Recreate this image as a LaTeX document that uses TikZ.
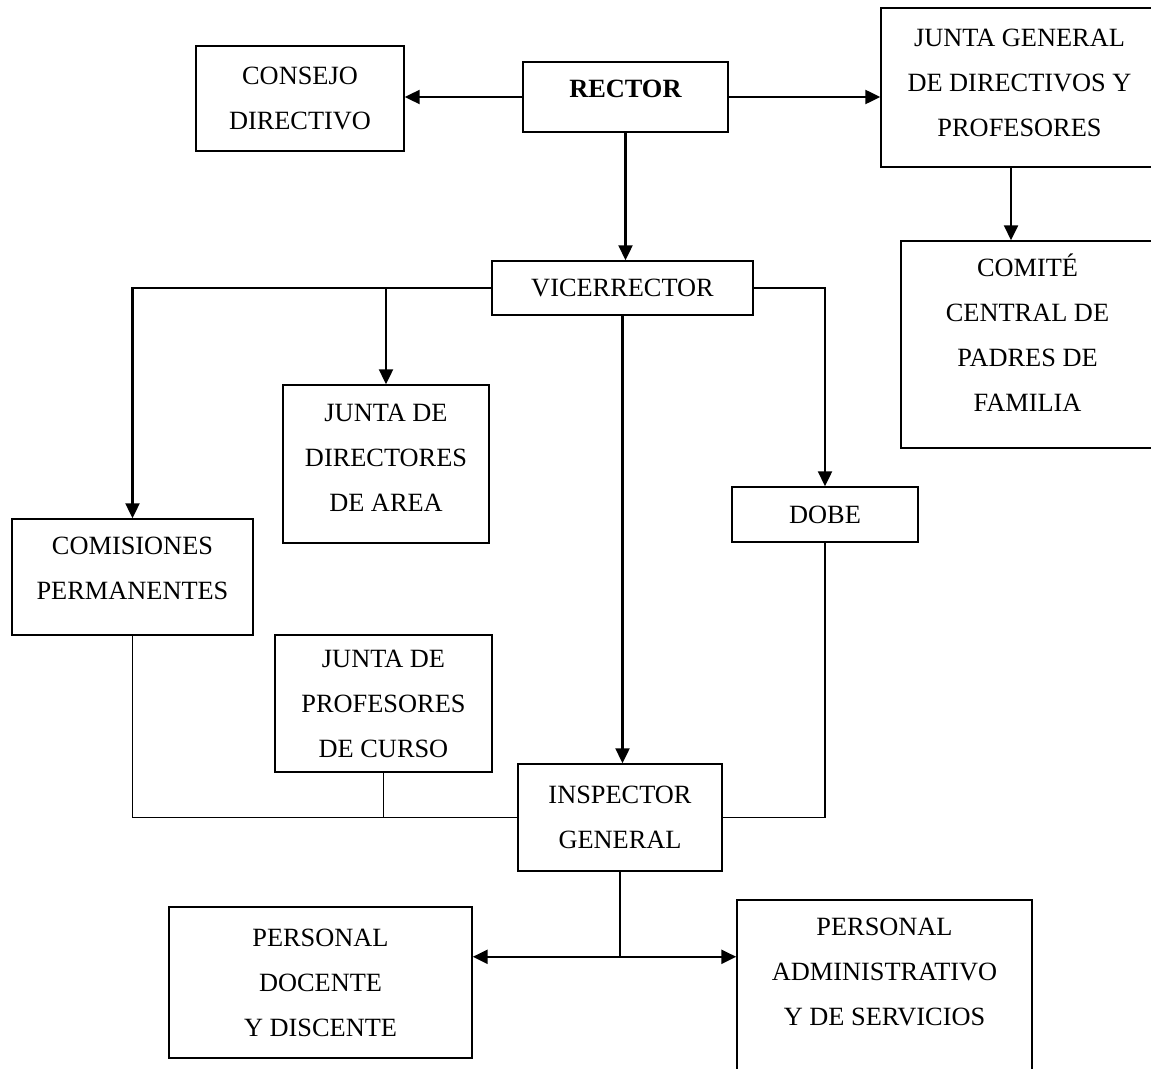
\documentclass[tikz,border=0pt]{standalone}
\usepackage{fontspec}
\setmainfont{Liberation Serif}
\usetikzlibrary{arrows.meta,calc,positioning}

\begin{document}
\begin{tikzpicture}[x=0.02cm,y=-0.02cm,
  txt/.style={align=center, inner sep=0pt, font=\fontsize{15}{25.6}\selectfont},
  box/.style={txt, draw, line width=0.9pt},
  dims/.style 2 args={minimum width=#1cm, minimum height=#2cm},
  lift/.style={execute at end node={\rule[-#1]{0pt}{0pt}}},
  arr/.style={-{Triangle[length=8.5pt,width=8pt]}, line width=1.2pt},
  link/.style={line width=0.9pt}]
\useasboundingbox (0,0) rectangle (1151,1068);

% Draw top level
\node[box, dims={4.1}{1.4}, lift=9pt] (rector) at (625.5,97) {\textbf{RECTOR}};
\node[box, dims={4.16}{2.1}] (consejo) at (300,98.5) {CONSEJO\\DIRECTIVO};
\node[box, dims={5.54}{3.18}, lift=5.7pt] (jgen) at (1019.5,87.5) {JUNTA GENERAL\\DE DIRECTIVOS Y\\PROFESORES};
\node[box, dims={5.06}{4.14}, lift=13.6pt] (comite) at (1027.5,344.5) {COMITÉ\\CENTRAL DE\\PADRES DE\\FAMILIA};

% Draw second level
\node[box, dims={5.22}{1.08}] (vice) at (622.5,288) {VICERRECTOR};
\node[box, dims={4.12}{3.16}, lift=6.8pt] (jdir) at (386,464) {JUNTA DE\\DIRECTORES\\DE AREA};
\node[box, dims={3.72}{1.1}] (dobe) at (825,514.5) {DOBE};
\node[box, dims={4.82}{2.32}, lift=10pt] (comis) at (132.5,577) {COMISIONES\\PERMANENTES};
\node[box, dims={4.34}{2.74}] (jprof) at (383.5,703.5) {JUNTA DE\\PROFESORES\\DE CURSO};

% Draw inspector and staff
\node[box, dims={4.08}{2.14}] (insp) at (620,817.5) {INSPECTOR\\GENERAL};
\node[box, dims={6.06}{3.02}] (docente) at (320.5,982.5) {PERSONAL\\DOCENTE\\Y DISCENTE};
\node[box, dims={5.9}{4.0}] (admin) at (884.5,1000) {};
\node[txt, anchor=north] (admintxt) at ([yshift=-0.36cm]admin.north) {PERSONAL\\ADMINISTRATIVO\\Y DE SERVICIOS};

% Rector arrows
\draw[arr] (rector.west) -- (rector.west -| consejo.east);
\draw[arr] (rector.east) -- (rector.east -| jgen.west);
\draw[arr] (rector.south) -- (rector.south |- vice.north);
\coordinate (jgdown) at ([xshift=-0.17cm]jgen.south);
\draw[arr] (jgdown) -- (jgdown |- comite.north);

% Vicerrector arrows
\draw[arr] (vice.west) -| (comis.north);
\draw[arr] (vice.west -| jdir.north) -- (jdir.north);
\draw[arr] (vice.east) -| (dobe.north);
\draw[arr] (vice.south) -- (vice.south |- insp.north);

% Links into inspector
\draw[link] (comis.south) |- (insp.west);
\draw[link] (jprof.south) -- (jprof.south |- insp.west);
\draw[link] (dobe.south) |- (insp.east);

% Staff arrows
\coordinate (fork) at ($(insp.south)+(0,85)$);
\draw[link] (insp.south) -- (fork);
\draw[arr] (fork) -- (fork -| docente.east);
\draw[arr] (fork) -- (fork -| admin.west);
\end{tikzpicture}
\end{document}
